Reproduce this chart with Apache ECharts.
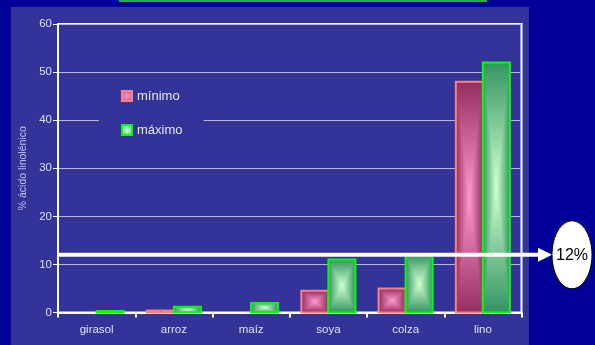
<!DOCTYPE html>
<html>
<head>
<meta charset="utf-8">
<script src="https://cdn.jsdelivr.net/npm/echarts@6/dist/echarts.min.js"></script>
<style>
  html, body { margin: 0; padding: 0; background: #000099; }
  #chart { width: 595px; height: 345px; }
</style>
</head>
<body>
<div id="chart"></div>
<script>
// Linolenic acid content (%) of common vegetable oils: minimum and maximum
const categories = ['girasol', 'arroz', 'maíz', 'soya', 'colza', 'lino'];
const minimo = [0, 0.4, 0, 4.5, 5, 48];
const maximo = [0.3, 1.2, 2, 11, 12, 52];
const seriesNames = ['mínimo', 'máximo'];
const yMin = 0, yMax = 60, yStep = 10;
const reference = 12;
const referenceLabel = '12%';

const FONT = '"Liberation Sans", Arial, sans-serif';

// edge / centre colours of the "from centre" rectangular gradient
const palettes = [
  { edge: [150, 48, 100], centre: [255, 152, 204], border: '#ff8080' },
  { edge: [54, 150, 100], centre: [206, 255, 206], border: '#00ff00' }
];

function mix(a, b, t) {
  return 'rgb(' + a.map((v, i) => Math.round(v + (b[i] - v) * t)).join(',') + ')';
}

function radial(p) {
  return {
    type: 'radial', x: 0.5, y: 0.5, r: 0.6,
    colorStops: [
      { offset: 0, color: mix(p.centre, p.centre, 0) },
      { offset: 1, color: mix(p.edge, p.centre, 0.35) }
    ]
  };
}

// Draws a bar as nested rectangles shrinking toward its centre
function makeRenderer(side) {
  const pal = palettes[side];
  return function (params, api) {
    const cat = api.value(0);
    const val = api.value(1);
    if (!(val > 0)) return null;
    const band = api.size([1, 0])[0];
    const barW = band * 0.35;
    const base = api.coord([cat, 0]);
    const top = api.coord([cat, val]);
    const x = side === 0 ? base[0] - barW : base[0];
    const y = top[1];
    const h = base[1] - top[1];
    const cx = x + barW / 2, cy = y + h / 2;
    const steps = 36;
    const children = [];
    for (let k = 0; k < steps; k++) {
      const s = 1 - k / steps;
      const w = barW * s, hh = h * s;
      children.push({
        type: 'rect',
        shape: { x: cx - w / 2, y: cy - hh / 2, width: w, height: hh },
        style: { fill: mix(pal.edge, pal.centre, k / (steps - 1)) },
        silent: true
      });
    }
    children.push({
      type: 'rect',
      shape: { x: x, y: y, width: barW, height: h },
      style: { fill: null, stroke: pal.border, lineWidth: 2 },
      silent: true
    });
    return { type: 'group', children: children };
  };
}

const chart = echarts.init(document.getElementById('chart'), null, { renderer: 'canvas' });

const option = {
  backgroundColor: '#000099',
  animation: false,
  textStyle: { fontFamily: FONT },
  graphic: [
    { type: 'rect', z: -10, shape: { x: 11, y: 7, width: 518, height: 345 }, style: { fill: '#333399' } },
    { type: 'rect', z: -10, shape: { x: 120, y: -20, width: 366, height: 21 }, style: { fill: '#000099', stroke: '#1fb040', lineWidth: 2 } }
  ],
  grid: {
    left: 58, right: 73.5, top: 24, bottom: 32.5,
    show: true, borderColor: '#ffffff', borderWidth: 2, backgroundColor: 'transparent'
  },
  legend: {
    orient: 'vertical',
    left: 99, top: 79,
    padding: [10, 21, 8, 22],
    backgroundColor: '#333399',
    itemWidth: 10, itemHeight: 10, itemGap: 20,
    textStyle: { color: '#e8e8f4', fontSize: 13, lineHeight: 14, fontFamily: FONT },
    data: seriesNames.map((n, i) => ({
      name: n,
      icon: 'rect',
      itemStyle: { color: radial(palettes[i]), borderColor: palettes[i].border, borderWidth: 2 }
    }))
  },
  xAxis: {
    type: 'category',
    data: categories,
    boundaryGap: true,
    axisLine: { lineStyle: { color: '#ffffff', width: 2 } },
    axisTick: { show: true, alignWithLabel: false, length: 5, lineStyle: { color: '#ffffff', width: 2 } },
    axisLabel: { color: '#e0e0f2', fontSize: 11.5, margin: 11, fontFamily: FONT },
    splitLine: { show: false }
  },
  yAxis: {
    type: 'value',
    min: yMin, max: yMax, interval: yStep,
    name: '% ácido linolénico',
    nameLocation: 'middle',
    nameGap: 28,
    nameTextStyle: { color: '#c4c4ea', fontSize: 10.5, fontFamily: FONT },
    axisLine: { show: true, lineStyle: { color: '#ffffff', width: 2 } },
    axisTick: { show: true, length: 5, lineStyle: { color: '#ffffff', width: 1 } },
    axisLabel: { color: '#e0e0f2', fontSize: 11.5, margin: 6, fontFamily: FONT },
    splitLine: { show: true, lineStyle: { color: '#b8b8c4', width: 1 } }
  },
  series: [minimo, maximo].map((values, i) => ({
    name: seriesNames[i],
    type: 'custom',
    renderItem: makeRenderer(i),
    itemStyle: { color: radial(palettes[i]), borderColor: palettes[i].border, borderWidth: 2 },
    encode: { x: 0, y: 1 },
    data: values.map((v, j) => [j, v]),
    z: 3
  }))
};

chart.setOption(option);

// Reference arrow at the 12% level, pointing to its label outside the plot
const left = chart.convertToPixel({ xAxisIndex: 0 }, 0) - (chart.convertToPixel({ xAxisIndex: 0 }, 1) - chart.convertToPixel({ xAxisIndex: 0 }, 0)) / 2;
const yRef = chart.convertToPixel({ yAxisIndex: 0 }, reference);
const tipX = 552;
const ellipseCx = 572;

chart.setOption({
  graphic: option.graphic.concat([
    { type: 'line', z: 100, shape: { x1: left, y1: yRef, x2: tipX - 12, y2: yRef }, style: { stroke: '#ffffff', lineWidth: 4 } },
    { type: 'polygon', z: 100, shape: { points: [[tipX - 14, yRef - 7], [tipX, yRef], [tipX - 14, yRef + 7]] }, style: { fill: '#ffffff' } },
    { type: 'ellipse', z: 100, shape: { cx: ellipseCx, cy: yRef, rx: 20, ry: 34 }, style: { fill: '#ffffff', stroke: '#000000', lineWidth: 1 } },
    { type: 'text', z: 101, x: ellipseCx, y: yRef + 1, style: { text: referenceLabel, fill: '#000000', font: '16px ' + FONT, align: 'center', verticalAlign: 'middle' } }
  ])
});
</script>
</body>
</html>
